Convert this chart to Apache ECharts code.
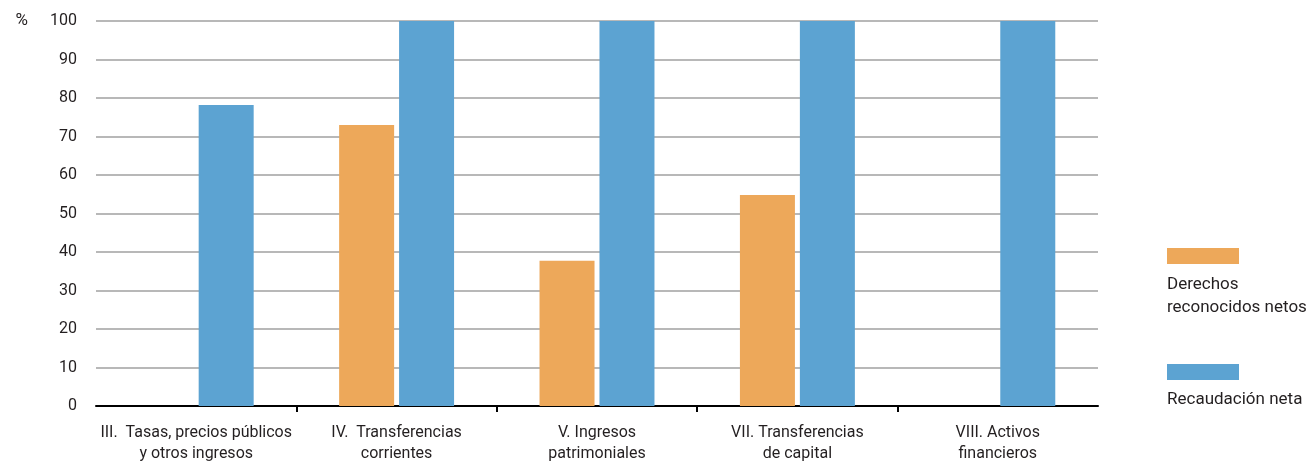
<!DOCTYPE html>
<html>
<head>
<meta charset="utf-8">
<script src="https://cdn.jsdelivr.net/npm/echarts@6/dist/echarts.min.js"></script>
<style>
html,body{margin:0;padding:0;background:#fff;}
#chart{width:1308px;height:461px;}
</style>
</head>
<body>
<div id="chart"></div>
<script>
const categories = [
  'III.  Tasas, precios públicos\ny otros ingresos',
  'IV.  Transferencias\ncorrientes',
  'V. Ingresos\npatrimoniales',
  'VII. Transferencias\nde capital',
  'VIII. Activos\nfinancieros'
];
const seriesNames = ['Derechos reconocidos netos', 'Recaudación neta'];
const legendLabels = ['Derechos\nreconocidos netos', 'Recaudación neta'];
const derechos = [null, 73, 37.7, 54.8, null];
const recaudacion = [78.2, 100, 100, 100, 100];
const yTicks = { min: 0, max: 100, interval: 10 };
const boundaryTicks = [1, 2, 3, 4];

const FONT = 'Roboto';
const TXT = '#231f20';
const ORANGE = '#EDA85A';
const BLUE = '#5CA3D2';

const chart = echarts.init(document.getElementById('chart'), null, { renderer: 'canvas' });
chart.setOption({
  animation: false,
  backgroundColor: '#fff',
  textStyle: { fontFamily: FONT, color: TXT },
  grid: { left: 96, right: 210, top: 21, bottom: 55, containLabel: false, outerBoundsMode: 'none' },
  legend: [
    {
      data: [seriesNames[0]], left: 1167, top: 248, itemWidth: 72, itemHeight: 16,
      icon: 'rect', formatter: () => '', selectedMode: false, padding: 0
    },
    {
      data: [seriesNames[1]], left: 1167, top: 364, itemWidth: 72, itemHeight: 16,
      icon: 'rect', formatter: () => '', selectedMode: false, padding: 0
    }
  ],
  graphic: [
    { type: 'text', left: 1167, top: 273, style: { text: legendLabels[0], font: '17px ' + FONT, fill: TXT, lineHeight: 23 } },
    { type: 'text', left: 1167, top: 388, style: { text: legendLabels[1], font: '17px ' + FONT, fill: TXT, lineHeight: 23 } }
  ],
  xAxis: [
    {
      type: 'category',
      data: categories,
      axisLine: { lineStyle: { color: '#000', width: 2 } },
      axisTick: { show: false },
      axisLabel: { color: TXT, fontFamily: FONT, fontSize: 16, lineHeight: 21, margin: 16, interval: 0 }
    },
    {
      type: 'value', position: 'bottom', min: 0, max: categories.length,
      axisLine: { show: false }, splitLine: { show: false },
      axisLabel: { show: false },
      axisTick: { show: true, customValues: boundaryTicks, length: 6, lineStyle: { color: '#000', width: 2 } }
    }
  ],
  yAxis: {
    type: 'value', min: yTicks.min, max: yTicks.max, interval: yTicks.interval,
    name: '%', nameLocation: 'end', nameGap: 0,
    nameTextStyle: { fontFamily: FONT, fontSize: 17, color: TXT, align: 'right', verticalAlign: 'middle', padding: [0, 68, 0, 0] },
    axisLine: { show: false }, axisTick: { show: false },
    axisLabel: { color: TXT, fontFamily: FONT, fontSize: 16, margin: 19 },
    splitLine: { lineStyle: { color: '#a0a0a0', width: 1.6 } }
  },
  series: [
    { name: seriesNames[0], type: 'bar', data: derechos, barWidth: 55, barGap: '9%', itemStyle: { color: ORANGE } },
    { name: seriesNames[1], type: 'bar', data: recaudacion, barWidth: 55, barGap: '9%', itemStyle: { color: BLUE } }
  ]
});
</script>
</body>
</html>
